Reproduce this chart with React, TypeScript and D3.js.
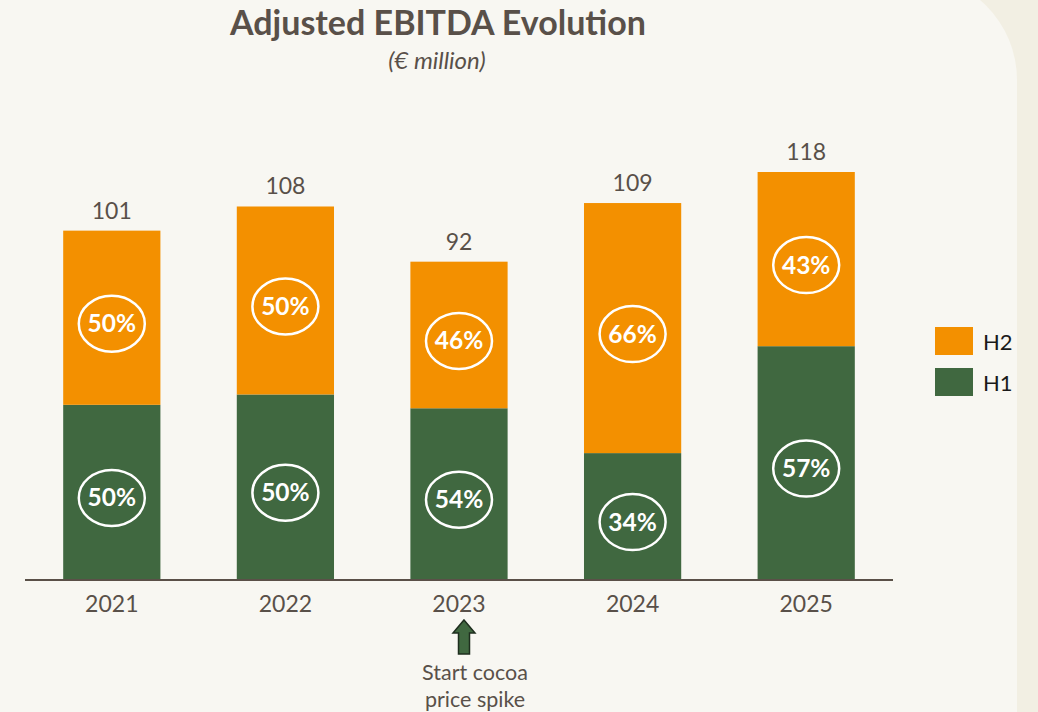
import React from "react";
import * as d3 from "d3";

const years = ["2021", "2022", "2023", "2024", "2025"];
const totals = [101, 108, 92, 109, 118];
const h1Values = [50.5, 53.5, 49.5, 36.5, 67.5];
const h2Values = totals.map((t, i) => t - h1Values[i]);
const h1Pct = ["50%", "50%", "54%", "34%", "57%"];
const h2Pct = ["50%", "50%", "46%", "66%", "43%"];
const legendItems = [
  { key: "H2", color: "#F39000" },
  { key: "H1", color: "#406840" },
];

const W = 1038;
const H = 712;
const FONT = "Lato, 'Open Sans', sans-serif";
const TEXT = "#595049";

export default function App() {
  const x = d3.scaleBand<string>().domain(years).range([25, 893]).paddingInner(0.44).paddingOuter(0.22);
  const y = d3.scaleLinear().domain([0, 118]).range([579, 172]);
  const bw = x.bandwidth();

  return (
    <div style={{ position: "fixed", left: 0, top: 0 }}>
      <svg width={W} height={H} style={{ display: "block" }}>
        <rect x={0} y={0} width={W} height={H} fill="#F2EFE3" />
        <rect x={-120} y={-25} width={1137} height={H + 200} rx={105} ry={105} fill="#F8F7F2" />

        <text x={438} y={35} textAnchor="middle" fontFamily={FONT} fontWeight={700} fontSize={34} fill={TEXT}>
          Adjusted EBITDA Evolution
        </text>
        <text x={437} y={69} textAnchor="middle" fontFamily={FONT} fontStyle="italic" fontSize={24} fill={TEXT}>
          (€ million)
        </text>

        {years.map((yr, i) => {
          const x0 = x(yr)!;
          const cx = x0 + bw / 2;
          const yTop = y(totals[i]);
          const ySplit = y(h1Values[i]);
          const y0 = y(0);
          const h2c = (yTop + ySplit) / 2 + 6;
          const h1c = (ySplit + y0) / 2 + 6;
          return (
            <g key={yr}>
              <rect x={x0} y={ySplit} width={bw} height={y0 - ySplit} fill="#406840" />
              <rect x={x0} y={yTop} width={bw} height={ySplit - yTop} fill="#F39000" />
              <text x={cx} y={yTop - 12} textAnchor="middle" fontFamily={FONT} fontSize={23} fill={TEXT}>
                {totals[i]}
              </text>
              <ellipse cx={cx} cy={h2c} rx={33} ry={28} fill="none" stroke="#fff" strokeWidth={2.5} />
              <text x={cx} y={h2c + 8.5} textAnchor="middle" fontFamily={FONT} fontWeight={700} fontSize={24.5} fill="#fff">
                {h2Pct[i]}
              </text>
              <ellipse cx={cx} cy={h1c} rx={33} ry={28} fill="none" stroke="#fff" strokeWidth={2.5} />
              <text x={cx} y={h1c + 8.5} textAnchor="middle" fontFamily={FONT} fontWeight={700} fontSize={24.5} fill="#fff">
                {h1Pct[i]}
              </text>
              <text x={cx} y={612} textAnchor="middle" fontFamily={FONT} fontSize={23} fill={TEXT}>
                {yr}
              </text>
            </g>
          );
        })}
        <line x1={25} x2={893} y1={580} y2={580} stroke="#5A5048" strokeWidth={2} />

        {(() => {
          const ax = x("2023")! + bw / 2 + 5;
          return (
            <path
              d={`M${ax},620 L${ax + 11},633 L${ax + 5.5},633 L${ax + 5.5},654 L${ax - 5.5},654 L${ax - 5.5},633 L${ax - 11},633 Z`}
              fill="#406840"
              stroke="#1E2E1E"
              strokeWidth={1.5}
            />
          );
        })()}
        <text x={475} y={680} textAnchor="middle" fontFamily={FONT} fontSize={21.5} fill={TEXT}>
          Start cocoa
        </text>
        <text x={475} y={707} textAnchor="middle" fontFamily={FONT} fontSize={21.5} fill={TEXT}>
          price spike
        </text>

        {legendItems.map((it, i) => (
          <g key={it.key}>
            <rect x={935} y={327 + i * 41} width={38} height={28} fill={it.color} />
            <text x={983} y={350 + i * 41} fontFamily={FONT} fontSize={22} fill="#1A1A1A">
              {it.key}
            </text>
          </g>
        ))}
      </svg>
    </div>
  );
}
